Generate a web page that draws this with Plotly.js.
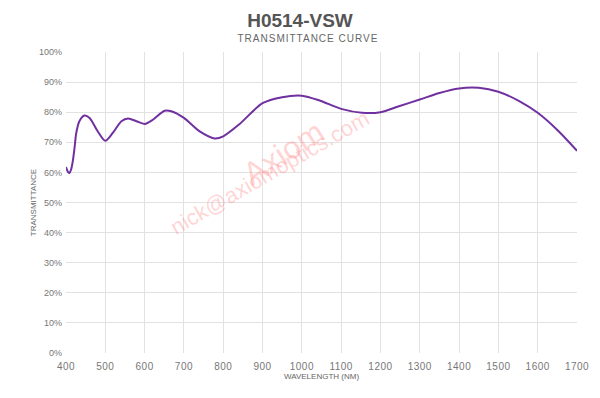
<!DOCTYPE html>
<html>
<head>
<meta charset="utf-8">
<script src="https://cdn.plot.ly/plotly-3.0.1.min.js"></script>
<style>html,body{margin:0;padding:0;background:#fff;}#chart{width:600px;height:398px;}</style>
</head>
<body>
<div id="chart"></div>
<script>
const wavelength = [400,405,409,413,417,422,426,434,447,460,481,500,519,541,558,579,600,621,651,668,700,740,778,800,841,900,950,1000,1045,1100,1153,1200,1247,1300,1350,1400,1450,1500,1553,1600,1650,1700];
const transmittance = [61.8,60.2,59.8,61,63.5,68.5,73,77,78.9,78.1,73.6,70.5,73.1,77,77.9,77,76.1,77.5,80.5,80.3,78.1,73.6,71.3,72,76,83,85,85.5,83.9,81.1,79.8,80,82,84.2,86.4,87.9,88.1,86.8,83.7,79.8,74.1,67.2];
const xTicks = [400,500,600,700,800,900,1000,1100,1200,1300,1400,1500,1600,1700];
const yTicks = [0,10,20,30,40,50,60,70,80,90,100];
const titleText = "H0514-VSW";
const subtitleText = "TRANSMITTANCE CURVE";

const FONT = 'Liberation Sans, Arial, sans-serif';
const trace = {
  x: wavelength, y: transmittance, type: 'scatter', mode: 'lines',
  line: {color: '#7030a0', width: 2, shape: 'spline', smoothing: 0.8},
  hoverinfo: 'skip'
};
const gridColor = '#e2e2e2';
const layout = {
  width: 600, height: 398,
  margin: {l: 66, r: 23, t: 52, b: 45},
  paper_bgcolor: '#fff', plot_bgcolor: '#fff',
  showlegend: false,
  title: {text: '<b>' + titleText + '</b>', x: 0.5, xanchor: 'center', y: 0.95, yanchor: 'middle',
          font: {family: FONT, size: 19, color: '#555555'}},
  xaxis: {
    range: [400, 1700], tickvals: xTicks, ticktext: xTicks.map(String),
    showgrid: true, gridcolor: gridColor, gridwidth: 1, zeroline: false,
    showline: false, ticks: '', ticklen: 0, ticklabelstandoff: 6,
    tickfont: {family: FONT, size: 10, color: '#777'},
    title: {text: 'WAVELENGTH (NM)', standoff: 2, font: {family: FONT, size: 8, color: '#666'}}
  },
  yaxis: {
    range: [0, 100], tickvals: yTicks, ticktext: yTicks.map(v => v + '%'),
    showgrid: true, gridcolor: gridColor, gridwidth: 1, zeroline: false,
    showline: false, ticks: '', ticklen: 0, ticklabelstandoff: 3,
    tickfont: {family: FONT, size: 9, color: '#777'},
    title: {text: 'TRANSMITTANCE', standoff: 1, font: {family: FONT, size: 8, color: '#666'}}
  },
  annotations: [
    {text: subtitleText, xref: 'paper', yref: 'paper', x: 0.474, y: 1, yshift: 14, xanchor: 'center', yanchor: 'middle', showarrow: false,
     font: {family: FONT, size: 10, color: '#666'}},
    {text: 'Axiom', xref: 'paper', yref: 'paper', x: 0.425, y: 0.665, xanchor: 'center', yanchor: 'middle', showarrow: false, textangle: -33,
     font: {family: FONT, size: 32, color: 'rgba(255,120,120,0.32)'}},
    {text: 'nick@axiomoptics.com', xref: 'paper', yref: 'paper', x: 0.399, y: 0.6, xanchor: 'center', yanchor: 'middle', showarrow: false, textangle: -30,
     font: {family: FONT, size: 22, color: 'rgba(255,120,120,0.32)'}}
  ]
};
Plotly.newPlot('chart', [trace], layout, {displayModeBar: false, staticPlot: true}).then(function () {
  const t = document.querySelectorAll('.annotation-text')[0];
  if (t) t.style.letterSpacing = '1px';
  document.querySelectorAll('.xtick text').forEach(function (e) { e.style.letterSpacing = '0.5px'; });
});
</script>
</body>
</html>
